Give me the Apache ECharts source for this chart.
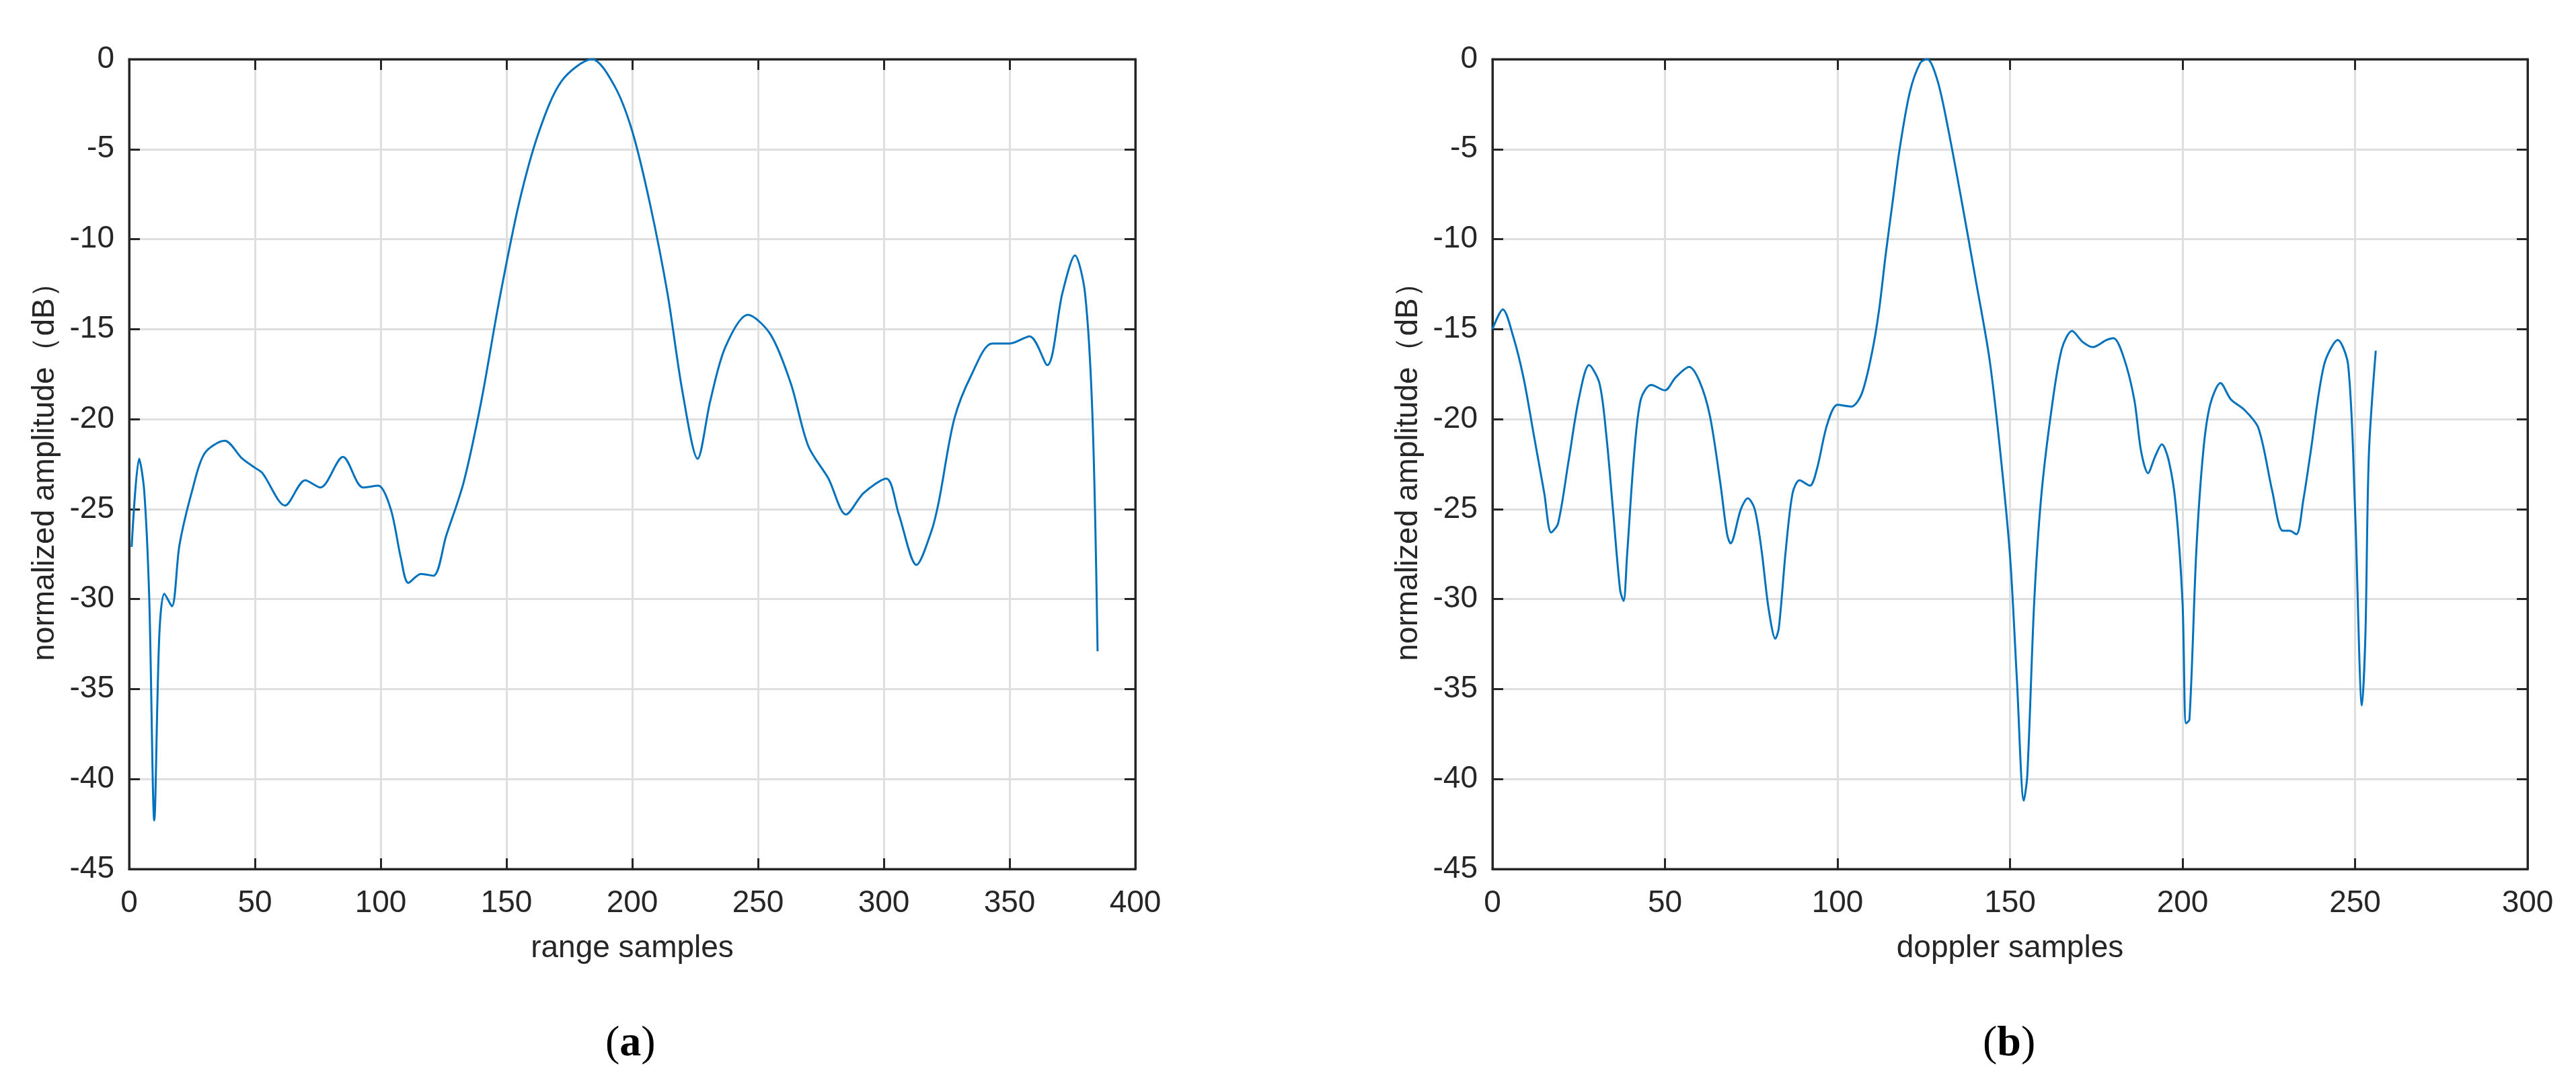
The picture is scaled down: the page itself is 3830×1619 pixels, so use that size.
<!DOCTYPE html>
<html><head><meta charset="utf-8">
<script src="https://cdn.jsdelivr.net/npm/echarts@6/dist/echarts.min.js"></script>
<style>html,body{margin:0;padding:0;background:#fff}#c{width:3830px;height:1619px}</style>
</head><body><div id="c"></div>
<script>
// range profile (a)
const rangeX = [1,4,6,8,10,12,14,17,20,25,30,38,45,50,53,62,70,76,85,93,99,104,108,111,116,121,126,133,140,147,155,163,172,184,193,200,207,214,220,226,231,237,246,255,263,270,278,285,292,301,306,313,319,322,328,335,343,350,358,365,371,376,380,383,385];
const rangeY = [-27.1,-22.2,-24,-30,-42.3,-32,-29.7,-30.4,-27,-24,-21.9,-21.2,-22.2,-22.7,-23,-24.8,-23.4,-23.8,-22.1,-23.8,-23.7,-25,-27.7,-29.1,-28.6,-28.7,-26.5,-23.5,-19,-13.5,-8,-4,-1.2,0,-1.5,-4,-8,-13,-18.5,-22.2,-19,-16,-14.2,-15.3,-18,-21.5,-23.3,-25.3,-24.1,-23.3,-25.3,-28.1,-26.2,-24.5,-20,-17.5,-15.8,-15.8,-15.4,-17,-13,-10.9,-13,-20,-32.9];
// doppler profile (b)
const dopX = [0,3,6,9,12,15,17,19,22,25,28,31,33,35,37,38,39,41,43,46,50,53,57,60,63,66,68,69,72,74,76,78,80,82,83,85,87,89,92,94,97,100,104,107,110,112,114,116,118,121,124,126,129,132,136,140,144,147,150,152,154,155,157,159,162,165,168,171,174,178,180,183,186,188,190,192,194,196,198,200,201,202,204,206,208,211,214,218,222,226,229,231,233,235,237,241,245,248,250,252,253,254,256];
const dopY = [-15,-13.9,-15.4,-17.7,-20.9,-24.1,-26.3,-25.8,-22.4,-18.9,-17,-18,-20.9,-25.2,-29.5,-30.1,-27.6,-22.1,-18.9,-18.1,-18.4,-17.7,-17.1,-17.9,-19.8,-23.5,-26.4,-26.9,-25,-24.4,-25,-27.3,-30.5,-32.2,-31.6,-27.3,-24.1,-23.4,-23.7,-22.8,-20.3,-19.2,-19.3,-18.6,-16.3,-14,-10.8,-7.9,-5,-1.8,-0.2,0,-1.2,-3.8,-7.9,-12.2,-16.6,-21.5,-27.6,-34.5,-41.2,-39.8,-30.2,-24.4,-19.5,-16.1,-15.1,-15.7,-16,-15.6,-15.5,-16.6,-18.9,-21.8,-23,-22.1,-21.4,-22.3,-24.7,-30.2,-36.9,-36.7,-27.3,-21.8,-19.2,-18,-18.9,-19.5,-20.5,-24,-26.2,-26.2,-26.4,-24.5,-22,-17,-15.6,-17,-25,-35.9,-32,-22,-16.2];
const xNames = ['range samples','doppler samples'];
const yName = 'normalized amplitude（dB）';
const panelLabels = ['a','b'];

const FONT = 'Liberation Sans';
const C = '#262626';
const grids = [
  {left:192, right:2142, top:88, bottom:327, show:true, borderColor:C, borderWidth:3},
  {left:2219, right:72, top:88, bottom:327, show:true, borderColor:C, borderWidth:3}
];
const xMax = [400,300];
const xAxis = [], yAxis = [], series = [];
const line = {show:true, onZero:false, lineStyle:{color:C, width:3}};
const tick = {inside:true, length:16, lineStyle:{color:C, width:3}};
for (let i=0;i<2;i++){
  xAxis.push({type:'value', gridIndex:i, position:'bottom', min:0, max:xMax[i], interval:50, name:xNames[i], nameLocation:'middle', nameGap:95,
    nameTextStyle:{fontFamily:FONT, fontSize:46, color:C},
    axisLine:line, axisTick:tick,
    axisLabel:{fontFamily:FONT, fontSize:46, color:C, margin:28},
    splitLine:{show:true, lineStyle:{color:'#dfdfdf', width:3}}});
  xAxis.push({type:'value', gridIndex:i, position:'top', min:0, max:xMax[i], interval:50,
    axisLine:line, axisTick:tick, axisLabel:{show:false}, splitLine:{show:false}});
  yAxis.push({type:'value', gridIndex:i, position:'left', min:-45, max:0, interval:5, name:yName, nameLocation:'middle', nameGap:102,
    nameTextStyle:{fontFamily:FONT, fontSize:46, color:C},
    axisLine:line, axisTick:tick,
    axisLabel:{fontFamily:FONT, fontSize:46, color:C, margin:22},
    splitLine:{show:true, lineStyle:{color:'#dfdfdf', width:3}}});
  yAxis.push({type:'value', gridIndex:i, position:'right', min:-45, max:0, interval:5,
    axisLine:line, axisTick:tick, axisLabel:{show:false}, splitLine:{show:false}});
  const xs = i===0?rangeX:dopX, ys = i===0?rangeY:dopY;
  series.push({type:'line', xAxisIndex:i*2, yAxisIndex:i*2, data:xs.map((x,k)=>[x,ys[k]]), showSymbol:false, smooth:0.3,
    lineStyle:{color:'#0072BD', width:3}, z:5});
}
const chart = echarts.init(document.getElementById('c'));
chart.setOption({
  animation:false,
  grid:grids, xAxis, yAxis, series,
  graphic: panelLabels.map((p,i)=>({type:'text', left:(i===0?940:2988)-40, top:1520,
    style:{text:'{n|(}{b|'+p+'}{n|)}', rich:{n:{fontFamily:'Liberation Serif', fontSize:64, fill:'#000'}, b:{fontFamily:'Liberation Serif', fontSize:64, fontWeight:'bold', fill:'#000'}}}}))
});
</script></body></html>
